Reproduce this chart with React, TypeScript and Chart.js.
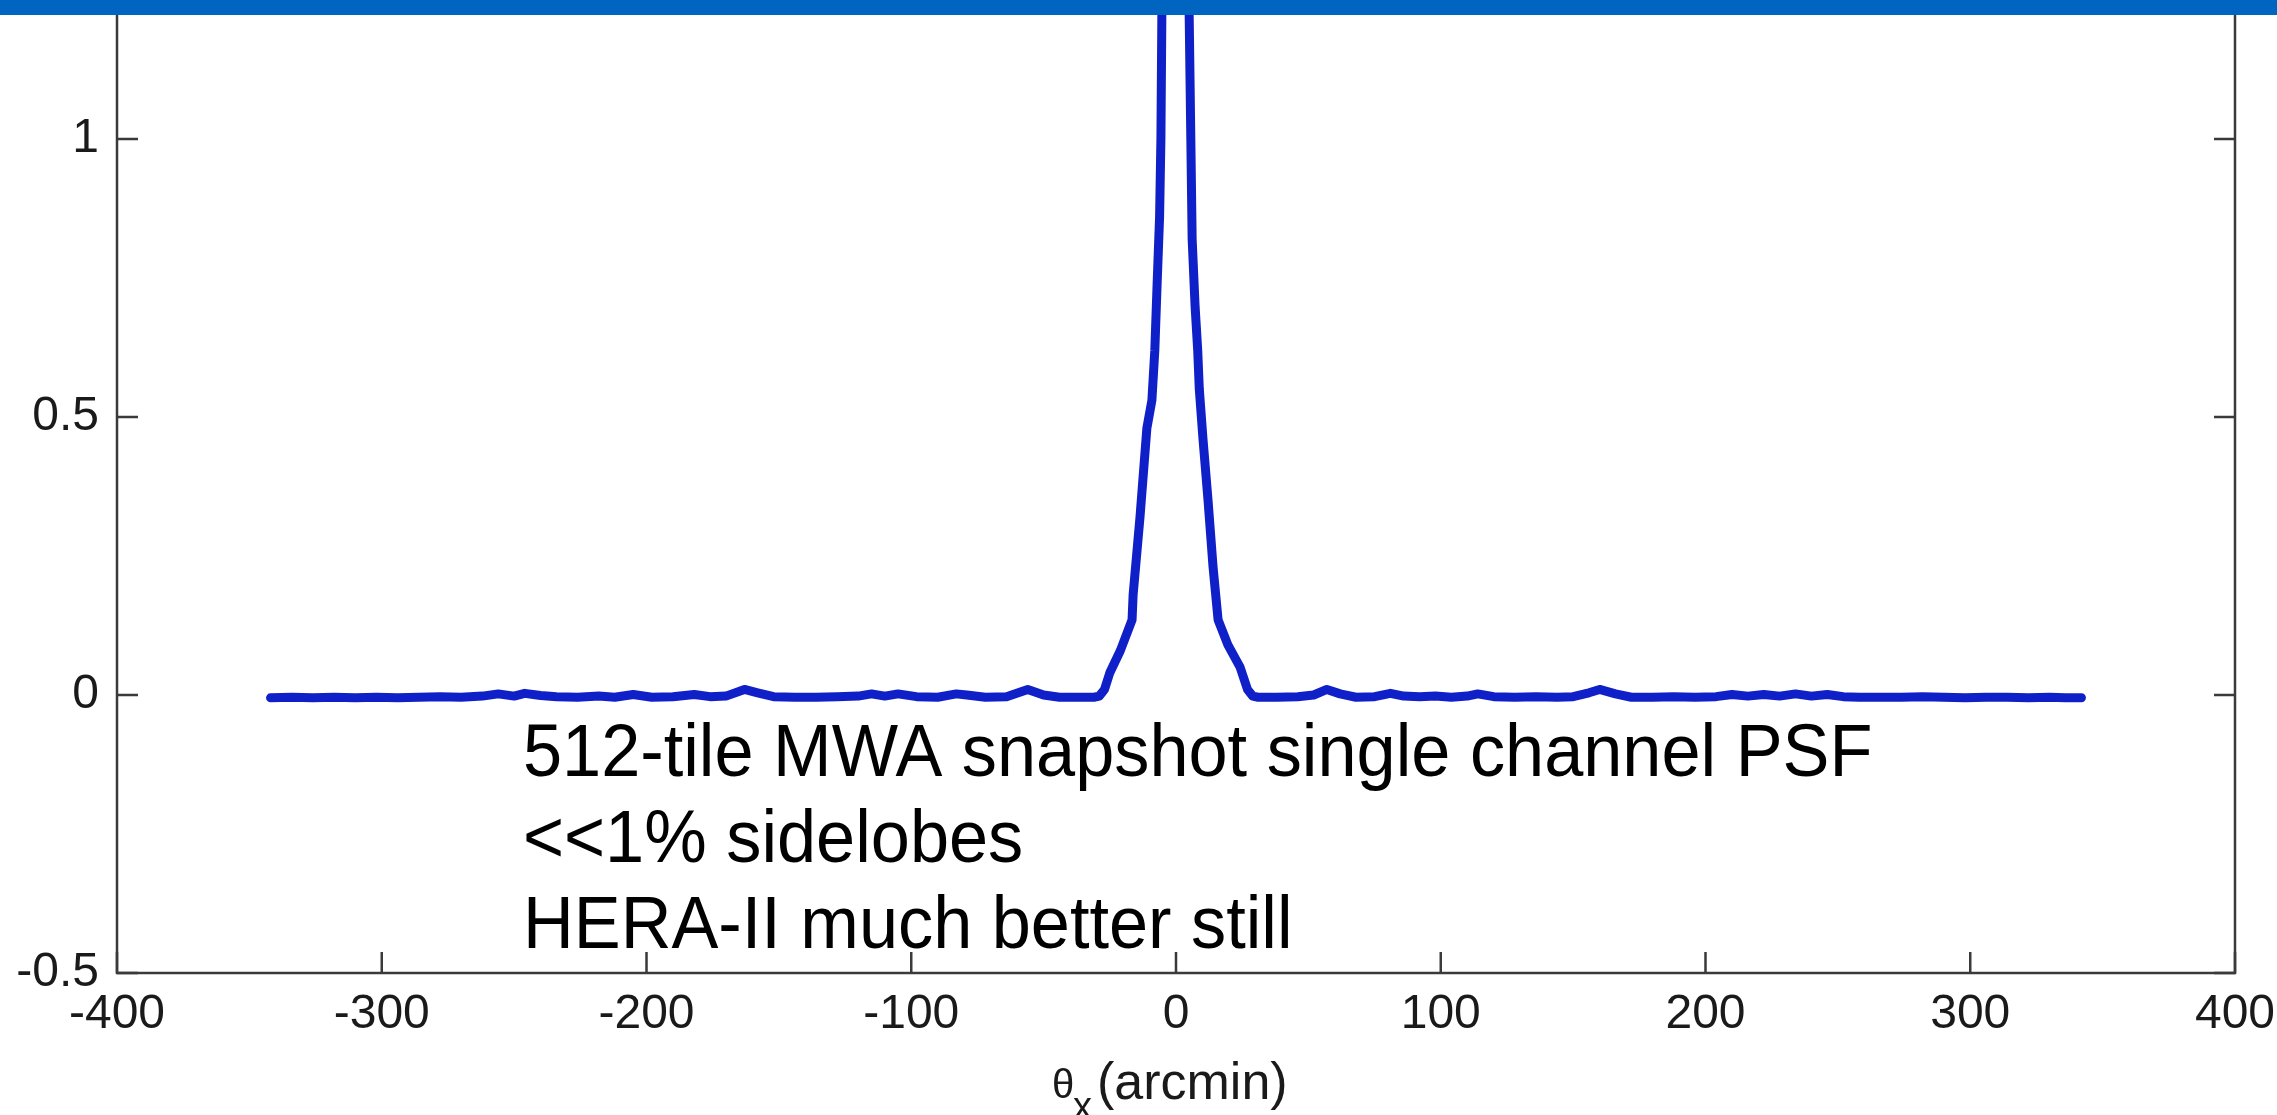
import React, { useEffect, useRef } from "react";
import { Chart, registerables } from "chart.js";

Chart.register(...registerables);

// ---- data ----
const leftSidelobeTheta = [
  -342, -334, -326, -318, -310, -302, -294, -286, -278, -270, -262, -256, -250, -246, -240, -234,
  -226, -218, -212, -205, -198, -190, -182, -176, -170, -163, -158, -152, -144, -136, -128, -120,
  -115, -110, -105, -98, -90, -83, -79, -72, -64, -56, -50, -44, -36, -31,
];
const leftSidelobeValue = [
  -0.005, -0.004, -0.005, -0.004, -0.005, -0.004, -0.005, -0.004, -0.003, -0.004, -0.002, 0.002,
  -0.002, 0.003, -0.001, -0.003, -0.004, -0.002, -0.004, 0.001, -0.004, -0.003, 0.001, -0.003,
  -0.002, 0.01, 0.004, -0.003, -0.004, -0.004, -0.003, -0.002, 0.002, -0.002, 0.002, -0.003,
  -0.004, 0.002, 0.0, -0.004, -0.003, 0.01, 0.0, -0.004, -0.004, -0.004,
];

const mainLobeTheta = [
  -29, -27, -25, -21, -16.6, -16.2, -13.6, -11, -9.1, -8, -7.2, -6.2, -5.7, -5.3, -5.0, 0,
  4.7, 4.9, 5.6, 6.1, 7.2, 8.2, 8.8, 10.2, 12.1, 14, 15.9, 19.6, 24.2, 27, 29,
];
const mainLobeValue = [
  -0.002, 0.01, 0.04, 0.08, 0.135, 0.18, 0.32, 0.48, 0.53, 0.62, 0.73, 0.86, 1.0, 1.25, 1.6, 2.2,
  1.6, 1.25, 1.0, 0.82, 0.7, 0.62, 0.55, 0.46, 0.35, 0.23, 0.135, 0.09, 0.05, 0.01, -0.002,
];

const rightSidelobeTheta = [
  31, 38, 46, 52, 57, 62, 68, 75, 81, 86, 92, 98, 104, 110, 114, 120, 128, 136, 144, 150, 156,
  160, 166, 172, 180, 188, 196, 204, 210, 216, 222, 228, 234, 240, 246, 252, 258, 266, 274, 282,
  290, 298, 306, 314, 322, 330, 336, 342,
];
const rightSidelobeValue = [
  -0.004, -0.004, -0.003, 0.0, 0.01, 0.002, -0.004, -0.003, 0.003, -0.002, -0.003, -0.002, -0.004,
  -0.002, 0.002, -0.003, -0.004, -0.003, -0.004, -0.003, 0.004, 0.01, 0.002, -0.004, -0.004,
  -0.003, -0.004, -0.003, 0.001, -0.002, 0.001, -0.002, 0.002, -0.002, 0.001, -0.003, -0.004,
  -0.004, -0.004, -0.003, -0.004, -0.005, -0.004, -0.004, -0.005, -0.004, -0.005, -0.005,
];

const xTickValues = [-400, -300, -200, -100, 0, 100, 200, 300, 400];
const yTickValues = [-0.5, 0, 0.5, 1];
const xRange = [-400, 400];
const yRange = [-0.5, 1.25];

const annotationLines = [
  "512-tile MWA snapshot single channel PSF",
  "<<1% sidelobes",
  "HERA-II much better still",
];
const xTitleSymbol = "θ";
const xTitleSubscript = "x";
const xTitleUnit = "(arcmin)";

// ---- styles ----
const W = 2277;
const H = 1115;
const LINE_COLOR = "#1020C8";
const AXIS_COLOR = "#3a3a3a";
const BAR_COLOR = "#0065C0";
const FONT = '"Liberation Sans", Arial, Helvetica, sans-serif';

export default function App() {
  const canvasRef = useRef<HTMLCanvasElement | null>(null);

  useEffect(() => {
    const canvas = canvasRef.current;
    if (!canvas) return;

    const thetas = [...leftSidelobeTheta, ...mainLobeTheta, ...rightSidelobeTheta];
    const values = [...leftSidelobeValue, ...mainLobeValue, ...rightSidelobeValue];
    const points = thetas.map((t, i) => ({ x: t, y: values[i] }));

    const decorations = {
      id: "decorations",
      afterDatasetsDraw(chart: any) {
        const { ctx, chartArea: a, scales } = chart;
        const x = scales.x;
        const y = scales.y;
        ctx.save();
        ctx.strokeStyle = AXIS_COLOR;
        ctx.lineWidth = 2.5;
        // box: left, bottom, right (top is cropped off in the reference)
        ctx.beginPath();
        ctx.moveTo(a.left, a.top);
        ctx.lineTo(a.left, a.bottom);
        ctx.lineTo(a.right, a.bottom);
        ctx.lineTo(a.right, a.top);
        ctx.stroke();
        // inward ticks
        const tl = 21;
        ctx.beginPath();
        for (const v of xTickValues) {
          const px = x.getPixelForValue(v);
          ctx.moveTo(px, a.bottom);
          ctx.lineTo(px, a.bottom - tl);
        }
        for (const v of yTickValues) {
          const py = y.getPixelForValue(v);
          ctx.moveTo(a.left, py);
          ctx.lineTo(a.left + tl, py);
          ctx.moveTo(a.right, py);
          ctx.lineTo(a.right - tl, py);
        }
        ctx.stroke();
        ctx.restore();
      },
      afterDraw(chart: any) {
        const { ctx } = chart;
        ctx.save();
        // annotation text (slightly condensed, as in the reference)
        ctx.fillStyle = "#000";
        ctx.textAlign = "left";
        ctx.textBaseline = "alphabetic";
        ctx.font = `74px ${FONT}`;
        const baselines = [776, 862, 948];
        const sx = 0.95;
        annotationLines.forEach((line, i) => {
          ctx.save();
          ctx.translate(523, baselines[i]);
          ctx.scale(sx, 1);
          ctx.fillText(line, 0, 0);
          ctx.restore();
        });
        // x title
        ctx.fillStyle = "#1a1a1a";
        ctx.font = `40px ${FONT}`;
        ctx.fillText(xTitleSymbol, 1052, 1098);
        ctx.font = `38px ${FONT}`;
        ctx.fillText(xTitleSubscript, 1073, 1119);
        ctx.font = `52px ${FONT}`;
        ctx.fillText(xTitleUnit, 1097, 1099);
        // top banner
        ctx.fillStyle = BAR_COLOR;
        ctx.fillRect(0, 0, W, 15);
        ctx.restore();
      },
    };

    const chart = new Chart(canvas, {
      type: "line",
      data: {
        datasets: [
          {
            data: points,
            borderColor: LINE_COLOR,
            borderWidth: 9,
            pointRadius: 0,
            tension: 0,
            borderJoinStyle: "round",
            borderCapStyle: "round",
            fill: false,
          },
        ],
      },
      options: {
        animation: false,
        responsive: false,
        maintainAspectRatio: false,
        layout: { padding: { top: 0, right: 42, left: 0, bottom: 0 } },
        plugins: {
          legend: { display: false },
          tooltip: { enabled: false },
          title: { display: false },
        },
        scales: {
          x: {
            type: "linear",
            min: xRange[0],
            max: xRange[1],
            afterBuildTicks: (scale: any) => {
              scale.ticks = xTickValues.map((v) => ({ value: v }));
            },
            afterFit: (scale: any) => {
              scale.height = 142;
              scale.paddingLeft = 0;
              scale.paddingRight = 0;
            },
            grid: { display: false, drawTicks: false },
            border: { display: false },
            ticks: {
              padding: 13,
              maxRotation: 0,
              autoSkip: false,
              color: "#1a1a1a",
              font: { family: FONT, size: 48 },
              callback: (v: any) => String(v),
            },
          },
          y: {
            type: "linear",
            min: yRange[0],
            max: yRange[1],
            afterBuildTicks: (scale: any) => {
              scale.ticks = yTickValues.map((v) => ({ value: v }));
            },
            afterFit: (scale: any) => {
              scale.width = 117;
              scale.paddingTop = 0;
              scale.paddingBottom = 0;
            },
            grid: { display: false, drawTicks: false },
            border: { display: false },
            ticks: {
              padding: 18,
              autoSkip: false,
              color: "#1a1a1a",
              font: { family: FONT, size: 48 },
              callback: (v: any) => String(v),
            },
          },
        },
      },
      plugins: [decorations],
    });

    return () => chart.destroy();
  }, []);

  return (
    <div
      style={{
        position: "absolute",
        left: 0,
        top: 0,
        width: W,
        height: H,
        background: "#fff",
        overflow: "hidden",
      }}
    >
      <canvas ref={canvasRef} width={W} height={H} style={{ display: "block" }} />
    </div>
  );
}
